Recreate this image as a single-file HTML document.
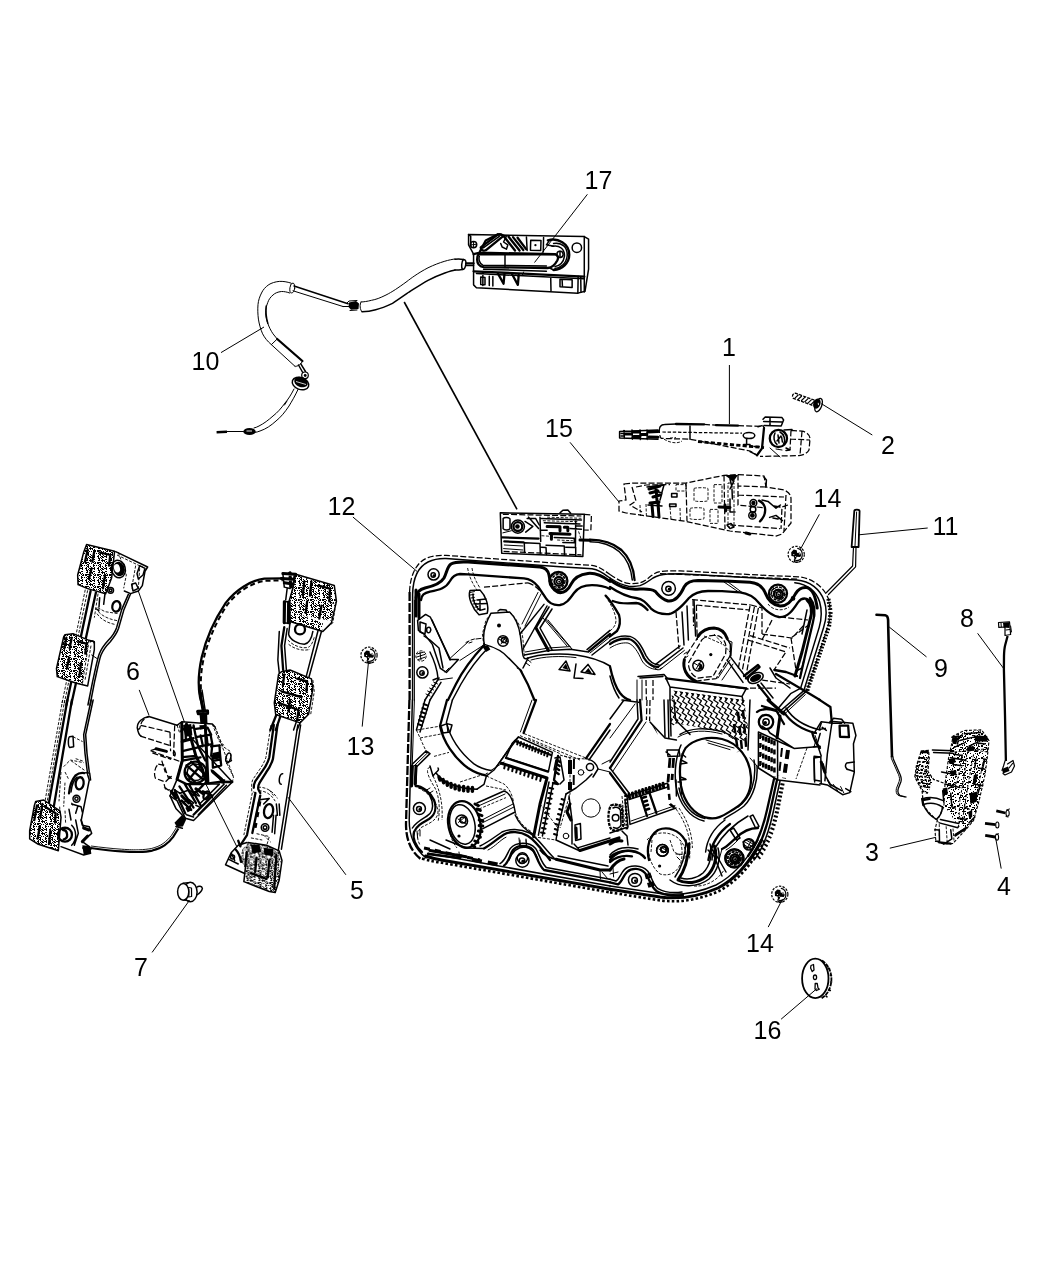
<!DOCTYPE html>
<html><head><meta charset="utf-8"><title>Door hardware diagram</title>
<style>
html,body{margin:0;padding:0;background:#fff;}
body{width:1050px;height:1275px;overflow:hidden;}
svg{display:block;will-change:transform}
text{font-family:"Liberation Sans",sans-serif;font-size:25px;fill:#000;text-anchor:middle}
.l{stroke:#000;stroke-width:1;fill:none}
.k{stroke:#000;stroke-width:1.5;fill:none;stroke-linejoin:round;stroke-linecap:round}
.t{stroke:#000;stroke-width:1;fill:none;stroke-linejoin:round;stroke-linecap:round}
.b{stroke:#000;stroke-width:2.3;fill:none;stroke-linejoin:round;stroke-linecap:round}
.bb{stroke:#000;stroke-width:3;fill:none;stroke-linejoin:round;stroke-linecap:round}
.d{stroke:#000;stroke-width:1.25;fill:none;stroke-dasharray:6 2.2}
.d2{stroke:#000;stroke-width:0.9;fill:none;stroke-dasharray:3 1.5}
path,circle,ellipse,line,polyline,rect{vector-effect:non-scaling-stroke}
.f{fill:#000;stroke:none}
.w{fill:#fff;stroke:#000;stroke-width:1.2}
</style></head><body>
<svg width="1050" height="1275" viewBox="0 0 1050 1275">
<rect width="1050" height="1275" fill="#fff"/>
<defs>
<pattern id="sp" patternUnits="userSpaceOnUse" width="12" height="12"><rect width="12" height="12" fill="#000"/><path d="M0 0h1v1h-1zM1 0h1v1h-1zM3 0h1v1h-1zM5 0h1v1h-1zM6 0h1v1h-1zM8 0h1v1h-1zM10 0h1v1h-1zM11 0h1v1h-1zM2 1h1v1h-1zM3 1h1v1h-1zM7 1h1v1h-1zM9 1h1v1h-1zM11 1h1v1h-1zM0 2h1v1h-1zM1 2h1v1h-1zM2 2h1v1h-1zM4 2h1v1h-1zM7 2h1v1h-1zM9 2h1v1h-1zM10 2h1v1h-1zM11 2h1v1h-1zM2 3h1v1h-1zM5 3h1v1h-1zM8 3h1v1h-1zM1 4h1v1h-1zM3 4h1v1h-1zM6 4h1v1h-1zM8 4h1v1h-1zM1 5h1v1h-1zM10 5h1v1h-1zM3 6h1v1h-1zM4 6h1v1h-1zM6 6h1v1h-1zM8 6h1v1h-1zM9 6h1v1h-1zM10 6h1v1h-1zM0 7h1v1h-1zM1 7h1v1h-1zM2 7h1v1h-1zM4 7h1v1h-1zM10 7h1v1h-1zM0 8h1v1h-1zM3 8h1v1h-1zM4 8h1v1h-1zM5 8h1v1h-1zM6 8h1v1h-1zM9 8h1v1h-1zM10 8h1v1h-1zM0 9h1v1h-1zM7 9h1v1h-1zM0 10h1v1h-1zM1 10h1v1h-1zM2 10h1v1h-1zM4 10h1v1h-1zM5 10h1v1h-1zM6 10h1v1h-1zM7 10h1v1h-1zM8 10h1v1h-1zM9 10h1v1h-1zM10 10h1v1h-1zM11 10h1v1h-1zM0 11h1v1h-1zM1 11h1v1h-1zM2 11h1v1h-1zM5 11h1v1h-1zM6 11h1v1h-1zM7 11h1v1h-1zM8 11h1v1h-1zM9 11h1v1h-1z" fill="#fff"/></pattern>
<pattern id="sl" patternUnits="userSpaceOnUse" width="12" height="12"><rect width="12" height="12" fill="#000"/><path d="M0 0h1v1h-1zM1 0h1v1h-1zM3 0h1v1h-1zM4 0h1v1h-1zM6 0h1v1h-1zM7 0h1v1h-1zM10 0h1v1h-1zM11 0h1v1h-1zM0 1h1v1h-1zM3 1h1v1h-1zM8 1h1v1h-1zM9 1h1v1h-1zM10 1h1v1h-1zM11 1h1v1h-1zM0 2h1v1h-1zM1 2h1v1h-1zM2 2h1v1h-1zM3 2h1v1h-1zM4 2h1v1h-1zM6 2h1v1h-1zM8 2h1v1h-1zM10 2h1v1h-1zM11 2h1v1h-1zM4 3h1v1h-1zM5 3h1v1h-1zM6 3h1v1h-1zM7 3h1v1h-1zM9 3h1v1h-1zM11 3h1v1h-1zM2 4h1v1h-1zM3 4h1v1h-1zM5 4h1v1h-1zM7 4h1v1h-1zM8 4h1v1h-1zM11 4h1v1h-1zM0 5h1v1h-1zM1 5h1v1h-1zM4 5h1v1h-1zM5 5h1v1h-1zM6 5h1v1h-1zM7 5h1v1h-1zM9 5h1v1h-1zM10 5h1v1h-1zM11 5h1v1h-1zM0 6h1v1h-1zM2 6h1v1h-1zM4 6h1v1h-1zM5 6h1v1h-1zM6 6h1v1h-1zM7 6h1v1h-1zM10 6h1v1h-1zM0 7h1v1h-1zM1 7h1v1h-1zM4 7h1v1h-1zM6 7h1v1h-1zM7 7h1v1h-1zM9 7h1v1h-1zM10 7h1v1h-1zM11 7h1v1h-1zM0 8h1v1h-1zM2 8h1v1h-1zM4 8h1v1h-1zM5 8h1v1h-1zM7 8h1v1h-1zM8 8h1v1h-1zM10 8h1v1h-1zM11 8h1v1h-1zM2 9h1v1h-1zM3 9h1v1h-1zM6 9h1v1h-1zM10 9h1v1h-1zM11 9h1v1h-1zM0 10h1v1h-1zM2 10h1v1h-1zM4 10h1v1h-1zM7 10h1v1h-1zM8 10h1v1h-1zM10 10h1v1h-1zM11 10h1v1h-1zM0 11h1v1h-1zM3 11h1v1h-1zM5 11h1v1h-1zM6 11h1v1h-1zM7 11h1v1h-1zM8 11h1v1h-1zM9 11h1v1h-1zM10 11h1v1h-1zM11 11h1v1h-1z" fill="#fff"/></pattern>
<pattern id="sp75" href="#sp" patternTransform="scale(7.5)"/>
<pattern id="sl75" href="#sl" patternTransform="scale(7.5)"/>
<pattern id="sp5" href="#sp" patternTransform="scale(5)"/>
<pattern id="sl5" href="#sl" patternTransform="scale(5)"/>
<pattern id="sp49" href="#sp" patternTransform="scale(4.9)"/>
<pattern id="sl49" href="#sl" patternTransform="scale(4.9)"/>
<pattern id="sp7" href="#sp" patternTransform="scale(7)"/>
<pattern id="sl7" href="#sl" patternTransform="scale(7)"/>
<pattern id="sp6" href="#sp" patternTransform="scale(6)"/>
<pattern id="sl6" href="#sl" patternTransform="scale(6)"/>
<pattern id="sp4" href="#sp" patternTransform="scale(4)"/>
<pattern id="sl4" href="#sl" patternTransform="scale(4)"/>
<pattern id="sp3" href="#sp" patternTransform="scale(3)"/>
<pattern id="sl3" href="#sl" patternTransform="scale(3)"/>
<pattern id="sp875" href="#sp" patternTransform="scale(8.75)"/>
<pattern id="sl875" href="#sl" patternTransform="scale(8.75)"/>
<pattern id="sx" patternUnits="userSpaceOnUse" width="12" height="12"><path d="M6 0h1v1h-1zM11 0h1v1h-1zM4 1h1v1h-1zM5 1h1v1h-1zM9 1h1v1h-1zM11 1h1v1h-1zM1 2h1v1h-1zM2 2h1v1h-1zM4 2h1v1h-1zM5 2h1v1h-1zM0 3h1v1h-1zM7 3h1v1h-1zM8 3h1v1h-1zM9 3h1v1h-1zM0 4h1v1h-1zM9 4h1v1h-1zM11 4h1v1h-1zM2 5h1v1h-1zM6 5h1v1h-1zM7 5h1v1h-1zM8 5h1v1h-1zM10 5h1v1h-1zM6 6h1v1h-1zM10 6h1v1h-1zM0 7h1v1h-1zM9 7h1v1h-1zM10 7h1v1h-1zM11 7h1v1h-1zM2 8h1v1h-1zM3 8h1v1h-1zM0 9h1v1h-1zM2 9h1v1h-1zM5 9h1v1h-1zM10 9h1v1h-1zM0 10h1v1h-1zM1 11h1v1h-1zM8 11h1v1h-1z" fill="#000"/></pattern>
<pattern id="sx875" href="#sx" patternTransform="scale(8.75)"/>
</defs>
<g transform="translate(610,400) scale(0.2)">
<!-- left connector -->
<path class="k" d="M48 158L240 150M48 190L240 196M48 158L48 190M70 152L72 192M110 150L112 196M150 150L152 198M185 150L186 198"/>
<path class="bb" d="M75 170L108 170M115 160L148 160M118 182L150 182M155 172L184 172M190 160L240 158M195 185L240 186"/>
<path class="k" d="M55 168L70 168M55 180L70 180"/>
<!-- body -->
<path class="k" d="M250 135C255 126 262 122 272 122L330 120"/>
<path class="b" d="M330 120L470 122M530 126L640 128"/>
<path class="d" d="M470 122L530 126M640 128L770 132M250 135C244 150 246 180 256 192L400 196L700 255L735 276"/>
<path style="stroke-dasharray:3.4 1.8;stroke-linecap:butt" class="d" d="M262 160L660 166"/>
<path style="stroke-width:2.8;stroke-dasharray:4.2 2.2;stroke-linecap:butt" class="k" d="M440 208L770 238"/>
<path class="k" d="M400 130L400 196"/>
<path class="d2" d="M270 196C300 215 340 220 360 205M300 190L330 188"/>
<ellipse class="k" cx="695" cy="178" rx="29" ry="15"/>
<path class="k" d="M683 194L683 222M668 222L700 222"/>
<path class="b" d="M770 140L760 242L735 276"/>
<path class="k" d="M735 276L700 258M720 232L745 232"/>
<!-- top block -->
<path class="k" d="M765 96L776 85L860 88L868 100L856 130L770 128M768 108L862 110M800 88L800 128M760 128L740 134"/>
<!-- lock cylinder -->
<circle class="b" cx="842" cy="192" r="43"/>
<path class="k" d="M825 165C815 185 820 210 835 222M850 160C870 170 880 200 868 220M840 175L845 215M855 180L835 205M858 185L862 210"/>
<path class="k" d="M870 150L910 148M880 240L900 250L880 252"/>
<!-- right dashed tail -->
<path class="d" d="M905 152L960 156C985 160 1000 175 1000 195L995 250C985 268 965 276 945 278L750 282M905 152L900 250M960 156L950 275M900 195L1000 200"/>
<path class="t" d="M800 240L850 285M830 245L860 250"/>
</g>

<g transform="translate(792.8,395.2) rotate(20)">
<path style="stroke-width:1.3;stroke-dasharray:3.2 1.2;stroke-linecap:butt" class="k" d="M22 -2.8L2.5 -2.8C-1 -2.8 -1 2.8 2.5 2.8L22 2.8"/>
<path style="stroke-width:1.2" class="k" d="M3 2L5 -2M6.5 2L8.5 -2M10 2L12 -2M13.5 2L15.5 -2M17 2L19 -2M20.5 2L22.5 -2"/>
<ellipse class="f" cx="25.5" cy="-0.3" rx="3.6" ry="5.2"/>
<ellipse style="stroke-width:1.3" class="k" cx="27.6" cy="0.5" rx="3.2" ry="7"/>
<path d="M26.5 -1.5L27.5 0.5" stroke="#fff" stroke-width="0.9"/>
</g>

<g transform="translate(905,720) scale(0.1142857)">
<!-- main body -->
<path fill="url(#sx875)" d="M420 140L520 100L670 88L735 180L720 330L700 480L650 700L600 880L540 950L470 930L350 760L350 560L380 340Z"/>
<path fill="url(#sx875)" d="M140 272L205 266L212 330L200 450L250 520L200 640L150 620L88 500L100 400Z"/>
<path style="stroke-width:1.1;stroke-dasharray:3 1.6;stroke-linecap:butt" class="d" d="M520 92L670 86L735 180L720 330L700 480L650 700L600 880L540 950L420 1080L340 1086L270 1060L262 960L282 880L340 760L350 560L380 340L410 200L420 140Z"/>
<path class="d2" d="M540 300L520 480L480 700L470 930M600 300L560 520L530 700L500 900M430 280L735 250M660 90L640 250M500 300L470 480L440 600M580 260L720 280M690 330L620 700"/>
<path class="k" d="M410 150L470 140L460 210M520 120L660 110M480 180L600 150L720 160M560 230L620 200L700 210M540 260L600 250M430 240L520 200M440 180L500 130"/>
<path class="f" d="M610 135L720 140L722 190L612 185ZM412 152L462 148L450 212L416 208ZM382 342L438 334L442 372L386 382ZM540 240L600 225L605 265L548 280Z"/>
<path class="k" d="M400 330L520 350M420 390L500 400M320 455L450 480M350 560L480 590M330 620L340 720M400 640L410 760L440 770M380 600L440 560M430 300L500 310L490 360"/>
<path class="f" d="M565 640L635 625L628 715L572 735ZM552 805L588 785L588 848L562 865ZM602 482L638 472L620 556L592 558ZM330 600L370 590L375 650L335 660ZM400 440L450 445L448 480L402 478Z"/>
<path class="k" d="M700 340L680 420M620 340L610 420M660 560L640 640M520 760L560 780M480 860L540 870M640 420L700 430M600 560L680 575M560 900L610 850"/>
<path class="k" d="M240 262L425 268M250 285L420 290"/>
<!-- left arm -->
<path style="stroke-dasharray:3 1.6;stroke-linecap:butt" class="d" d="M140 272L205 266L212 330L200 450L250 520L340 552M140 280L100 400L86 500L150 620L160 740L200 800L270 870"/>
<path class="f" d="M135 268L205 264L208 290L138 292Z"/>
<path style="stroke-width:1.7;stroke-dasharray:2.5 1.5;stroke-linecap:butt" class="k" d="M120 330L200 335M105 400L195 410M95 460L200 470M100 520L230 530M130 580L220 590M115 365L198 372M100 430L196 440M98 490L215 500M115 550L225 560M150 620L200 640"/>
<path class="k" d="M150 690C210 670 280 680 335 705M160 740C220 720 280 730 325 760M160 740C180 790 220 840 275 870C310 840 325 800 328 760"/>
<path class="b" d="M150 690L160 745M155 700L215 690"/>
<!-- bottom -->
<path class="k" d="M262 960L300 962L302 1060L268 1062M300 900L462 942L470 930M310 870L470 905M400 960L410 1040L340 1086M440 1000L540 940"/>
<path class="d2" d="M280 880L300 900L300 1020M360 930L370 1080M420 950L430 1070"/>
<path class="b" d="M440 1010L530 950M300 1070L400 1082"/>
</g>
<!-- screws 4 -->
<g>
<path d="M996.3 810.8L1005.5 813" stroke="#000" stroke-width="2.8" fill="none"/><ellipse style="stroke-width:1.1" class="k" cx="1007.6" cy="813.3" rx="1.6" ry="3"/><path class="t" d="M1006.5 810L1009.5 809M1006 816.5L1008 817"/>
<path d="M985 823.3L995.5 824.6" stroke="#000" stroke-width="2.8" fill="none"/><ellipse style="stroke-width:1.1" class="k" cx="997.3" cy="825" rx="1.6" ry="3"/>
<path d="M985.2 835.4L995.2 837" stroke="#000" stroke-width="2.8" fill="none"/><ellipse style="stroke-width:1.1" class="k" cx="997" cy="837.3" rx="1.6" ry="3"/><path class="t" d="M996 834.2L998.6 833.8"/>
</g>

<g transform="translate(25,535) scale(0.13333)">
<!-- top clip dark block -->
<path fill="url(#sl75)" d="M462 72L672 122L650 320L605 440L470 402L398 372L395 300L440 130Z"/>
<path class="b" d="M470 110L450 200M560 130L640 150L630 230M500 250L480 330M600 300L585 400M520 120L505 200"/>
<path class="k" d="M462 72L672 122L650 320L605 440L470 402L398 372L395 300L440 130Z"/>
<!-- right bracket top -->
<path class="k" d="M680 125L920 240L900 272L880 380L850 420L792 440L745 420"/>
<path class="d2" d="M690 150L900 250M700 130L760 300L740 400M830 230L800 400M860 250L850 400"/>
<path class="k" d="M860 230L900 250L885 300L850 330L840 290ZM800 370L830 360L850 400L810 420Z"/>
<ellipse class="f" cx="705" cy="255" rx="42" ry="55" transform="rotate(-15 705 255)"/>
<ellipse cx="690" cy="250" rx="22" ry="32" fill="#fff" transform="rotate(-15 690 250)"/>
<ellipse class="k" cx="700" cy="255" rx="52" ry="66" transform="rotate(-15 700 255)"/>
<circle class="k" cx="642" cy="415" r="22"/><circle class="k" cx="642" cy="415" r="10"/>
<ellipse class="b" cx="685" cy="535" rx="30" ry="40" transform="rotate(10 685 535)"/>
<!-- rails -->
<path class="b" d="M492 420L310 1275M532 432L346 1275"/>
<path class="d2" d="M452 410L275 1275M470 415L292 1275M548 440L520 620"/>
<path class="k" d="M600 440L590 520M560 470L555 540"/>
<!-- right edge double line -->
<path class="k" d="M792 440L742 560L702 700C690 735 670 765 640 800C610 830 590 850 570 900C555 940 540 1020 522 1100L488 1275"/>
<path class="k" d="M775 445L725 560L687 695C675 730 655 758 625 790C595 822 575 845 556 895C540 940 525 1020 507 1100L472 1275"/>
<path class="d2" d="M530 548C560 600 620 630 690 642M540 590C570 635 620 660 680 672M545 545L600 575L700 590"/>
<path class="f" d="M530 548L560 560L555 580Z"/>
<path class="t" d="M500 900L545 930"/>
<!-- middle clip -->
<path fill="url(#sl75)" d="M300 748L360 740L480 790L470 860L430 1120L380 1110L242 1062L236 1000L290 765Z"/>
<path class="b" d="M310 770L295 850M400 800L460 815L452 890M330 920L315 1000M420 960L408 1060M350 770L335 850"/>
<path class="k" d="M300 748L360 740L480 790L520 800L520 860L470 1132L380 1110L242 1062L236 1000L290 765Z"/>
<path class="d2" d="M480 790L470 860L430 1120M495 830L450 1090"/>
<path class="k" d="M490 800C500 790 515 795 520 810"/>
<!-- line to motor -->
</g>

<g transform="translate(25,700) scale(0.13333)">
<path class="b" d="M318 0L176 790M352 0L216 800"/>
<path class="d2" d="M282 0L150 760M298 0L165 770"/>
<path class="k" d="M496 0L440 260L450 400L470 560L482 600L452 750L422 900L440 960M511 0L455 260L465 400L482 540"/>
<path class="k" d="M335 275L360 272L365 350L335 356C322 350 322 282 335 275Z"/>
<path class="d2" d="M360 275L432 312M290 500L340 450L440 470M300 540L330 600M270 540L255 760M300 620L290 800M345 455L450 530M380 440L440 460"/>
<path class="b" d="M330 700C335 650 350 600 380 565C400 548 425 545 445 548"/>
<path class="k" d="M345 690C350 640 365 600 390 578"/>
<ellipse class="b" cx="410" cy="625" rx="30" ry="46" transform="rotate(8 410 625)"/>
<circle class="k" cx="386" cy="740" r="26"/><circle class="k" cx="386" cy="740" r="12"/>
<path class="k" d="M455 545L485 548L492 600M350 780L420 800L430 840M330 820L345 900M380 850L395 800"/>
<path class="d2" d="M260 800L265 900M300 830L305 930M350 770L360 800"/>
<!-- bottom clip -->
<path fill="url(#sl75)" d="M80 762L140 750L262 832L270 880L250 1130L100 1082L35 1042L35 980L70 792Z"/>
<path class="b" d="M90 790L70 900M150 800L230 850L225 920M110 950L95 1040M190 980L180 1080M130 780L115 880"/>
<path class="k" d="M80 762L140 750L262 832L270 880L250 1130L100 1082L35 1042L35 980L70 792Z"/>
<!-- bottom bracket -->
<circle class="b" cx="300" cy="1010" r="52"/><path class="b" d="M285 975C320 975 330 1040 290 1045"/>
<path class="k" d="M270 1100L440 1162L492 1150L482 1100L430 1062L500 1000L482 950L430 940L420 900"/>
<path class="k" d="M350 940C390 980 390 1050 350 1090M380 900L400 1000L370 1090"/>
<path class="bb" d="M440 960L480 975M430 1062L470 1020M440 1110L490 1115"/>
<path class="f" d="M430 1090L490 1095L495 1150L440 1160Z"/>
</g>

<g transform="translate(190,560) scale(0.142857)">
<!-- cable arc -->
<path class="b" d="M95 1050L70 960C55 880 60 780 82 680C110 560 170 420 250 300C320 210 420 145 520 130L650 128"/>
<path style="stroke-width:2;stroke-dasharray:5 3;stroke-linecap:butt" class="k" d="M82 960C70 880 75 780 96 690C124 570 182 432 262 312C330 224 428 160 524 146L650 142"/>
<path class="b" d="M55 1056L125 1054L126 1072L58 1074Z"/>
<path class="f" d="M70 1074L120 1072L122 1142L75 1145Z"/>
<!-- top connector -->
<path class="bb" d="M650 95L740 100M640 130L730 135M660 160L720 168M700 90L705 190M735 100L725 200"/>
<path class="k" d="M650 95L660 190L700 200M680 200L670 280M720 200L700 290"/>
<!-- top clip -->
<path fill="url(#sl7)" d="M790 120L1010 180L1022 290L985 425L770 385L765 250Z"/>
<path fill="url(#sl7)" d="M740 100L790 120L765 250L770 385L930 440L925 500L700 430L690 300L720 200Z"/>
<path class="b" d="M800 150L790 250M900 180L980 200L975 290M820 290L810 370M920 320L905 410M850 150L840 250"/>
<path class="k" d="M740 100L1010 178L1025 290L990 440L930 500L700 430L690 300L720 200Z"/>
<path class="bb" d="M662 292L660 440M690 295L688 440"/>
<path class="k" d="M655 290L700 292L700 445L655 440Z"/>
<path class="d2" d="M990 300L1020 310L1000 440L960 470"/>
<!-- rail -->
<path class="b" d="M660 470L640 600L652 770"/>
<path class="k" d="M625 500L615 700L625 790M680 480L662 600L675 775"/>
<path class="k" d="M920 500L830 830M897 492L812 822"/>
<circle class="b" cx="770" cy="486" r="35"/>
<path class="k" d="M700 440L690 520C700 560 760 590 800 590C830 585 850 560 860 500"/>
<path class="d2" d="M685 560C720 600 790 625 830 610C850 600 862 570 870 540M690 590C730 625 800 640 840 625"/>
<!-- middle clip -->
<path fill="url(#sl7)" d="M640 782L700 770L850 832L858 900L845 980L610 920L620 800Z"/>
<path fill="url(#sl7)" d="M610 920L845 980L830 1080L770 1140L600 1082L590 1000Z"/>
<path class="b" d="M660 800L650 880M750 830L820 850L815 920M640 920L780 960M700 980L690 1060M620 1000L760 1050L750 1120"/>
<path class="k" d="M640 782L700 770L850 832L860 900L830 1080L770 1140L600 1082L590 1000L620 800Z"/>
<path class="d2" d="M860 840L870 920L845 1080"/>
<!-- rail below -->
<path class="b" d="M602 1090L562 1190M632 1096L600 1190"/>
<path class="k" d="M770 1140L750 1190M745 1130L725 1190"/>
</g>

<g transform="translate(210,725) scale(0.141145)">
<path class="b" d="M452 0L420 230C410 265 395 295 372 325L320 400C312 415 310 430 310 445"/>
<path class="b" d="M478 0L446 240C436 275 420 305 398 335L352 408C342 425 340 440 342 455L356 482"/>
<path class="d2" d="M432 0L396 230C386 260 370 290 350 318L302 388C294 410 294 440 296 470L330 482"/>
<path class="b" d="M322 482L262 780L215 852M356 500L300 765"/>
<path class="d2" d="M300 480L240 780"/>
<path class="k" d="M622 0L546 500L482 900L462 1180M642 0L566 500L506 880"/>
<path class="k" d="M515 345C490 340 480 420 505 420"/>
<ellipse class="b" cx="415" cy="610" rx="32" ry="50" transform="rotate(10 415 610)"/>
<circle class="k" cx="390" cy="726" r="27"/><circle class="k" cx="390" cy="726" r="13"/>
<path class="d2" d="M340 440C390 440 440 460 478 520M345 465C390 468 430 485 462 540M420 460L450 500"/>
<path class="k" d="M350 530L420 520L380 560M470 560L478 640M490 560L495 640M450 640L440 760M468 640L458 770"/>
<path style="stroke-width:3.4;stroke-dasharray:5 6;stroke-linecap:butt" class="k" d="M352 540L318 730"/>
<path class="d2" d="M330 770L420 790L400 860M290 800L370 815M380 780L430 830"/>
<!-- bottom clip -->
<path fill="url(#sl7)" d="M270 832L400 852L490 892L510 960L490 1100L462 1186L420 1180L240 1110L252 1000L205 960L230 880Z"/>
<path class="f" d="M290 850L350 845L360 900L300 910ZM380 870L450 880L445 930L385 920Z"/>
<path class="b" d="M260 900L250 1000M330 940L320 1040M420 960L410 1080M470 920L455 1160M290 1050L400 1090"/>
<path class="k" d="M270 832L400 852L490 892L510 960L490 1100L462 1186L420 1180L240 1110L252 1000"/>
<path class="k" d="M110 990L150 905L200 852L262 832M110 990L242 1050M150 905L175 960M130 950L200 985"/>
<circle class="k" cx="160" cy="935" r="14"/>
<path class="b" d="M180 880C200 900 215 930 220 970M200 820L215 860"/>
<!-- line from motor -->
</g>

<g>
<path class="l" d="M138.3 591L184.4 722"/>
<path class="l" d="M205.3 783L237 847"/>
<!-- cable from left rail bottom to motor -->
<path d="M90.6 848C100 849.3 112 850.8 121.4 851.4C130 852 134 852.1 138.6 852C144 851.8 148 851.5 152.3 850.6C157 849.3 161 847.8 164.5 845.4C168 842.8 171 839.8 173.2 836.8L178.4 828.5" stroke="#000" stroke-width="2.1" fill="none"/>
<path d="M91 846C100 847.2 112 848.6 121.4 849.2C130 849.8 134 849.9 138.6 849.8C144 849.6 148 849.2 151.8 848.4C156 847.2 160 845.8 163 843.6C166.5 841 169.5 838 171.5 835.4L176.5 827.5" stroke="#000" stroke-width="0.9" fill="none"/>
</g>

<g transform="translate(130,690) scale(0.117647)">
<!-- motor cylinder -->
<path class="k" d="M160 226L400 300"/>
<path class="k" d="M160 226C110 235 60 270 62 320C66 350 80 385 95 392"/><path class="d" d="M62 320C70 345 85 335 90 300C95 265 130 235 160 226M90 300L340 358M88 392L340 472M380 300L370 560M340 358L345 520"/>
<path class="d" d="M175 516L420 606M190 535L350 590M175 516L220 500"/>
<path class="bb" d="M222 500L310 522"/>
<path class="k" d="M372 520C366 535 370 555 380 560C388 545 384 525 372 520Z"/>
<path class="d" d="M232 640C212 660 200 720 216 750L300 782L340 742M240 630L290 640L330 760M290 822L350 872M270 600L300 700M290 800L300 840L340 850"/>
<path class="k" d="M330 735L350 750M335 750L350 735"/>
<!-- housing -->
<path class="k" d="M400 300L440 270L700 290L722 312M862 600L822 622M870 782L540 1110L470 1090L392 1010L340 900L400 760L440 600L440 320Z"/>
<path class="d2" d="M722 312L790 480L850 520L862 600M822 622L880 740L870 782M700 290L760 440L800 470M722 312L880 740M400 300L420 360M760 460L780 480L760 500M420 300L430 360"/>
<ellipse class="k" cx="836" cy="575" rx="20" ry="40" transform="rotate(15 836 575)"/>
<path class="bb" d="M440 280L445 600L400 760M480 290L520 420L560 560L600 640L650 780M640 300L662 780"/>
<path class="b" d="M445 330L530 320M445 430L540 410M445 520L570 490M445 600L600 572M470 300L475 430M520 420L440 440M560 560L445 570"/>
<path class="b" d="M560 400L685 380L700 460L580 482ZM600 385L620 478M650 382L660 470M580 482L640 600M700 460L690 560M560 330L640 320M540 300L560 400M660 320L690 380"/>
<path class="b" d="M700 560L765 540L775 640L705 660ZM720 600L770 590M690 480L760 470L765 540"/>
<path class="f" d="M450 300L520 290L530 385L470 400ZM700 535L762 522L766 582L705 592ZM590 300L640 298L642 330L595 335Z"/>
<circle class="b" cx="556" cy="700" r="92"/><circle class="k" cx="556" cy="700" r="70"/>
<path class="b" d="M480 640L620 760M520 610L640 720M500 760L600 640M470 700L560 790"/>
<path class="b" d="M400 760L480 800L620 800L760 780L870 782M420 820L540 1000M460 790L560 960M640 790L530 900M620 860L700 900L540 1060M440 940L520 1020M500 800L600 980M380 850L470 1050"/>
<path class="k" d="M340 900L400 940L470 1090M380 850L430 880M360 880L400 900M690 680L760 740M700 700L780 770M800 800L560 1040M820 810L580 1060M660 800L760 800L600 960M420 880L500 850L580 900"/>
<path class="bb" d="M350 860L390 920M700 690L780 760M440 900L500 960M560 840L620 880"/>
<ellipse class="b" cx="650" cy="895" rx="22" ry="36" transform="rotate(30 650 895)"/>
<path class="f" d="M760 750L810 760L800 800L770 790ZM470 1000L510 980L530 1020L490 1040ZM360 870L385 860L400 900L375 915Z"/>
<path class="k" d="M450 960L500 930L540 960L500 1000ZM520 880L560 860L590 900M560 980L600 1000M480 1060L540 1080"/>
<!-- cable top -->
<path class="bb" d="M592 0L622 180"/><path class="k" d="M612 0L640 180"/>
<path class="b" d="M572 182L660 178L662 200L578 204Z"/>
<path class="f" d="M590 204L652 200L655 282L600 285Z"/>
<!-- cable bottom -->
<path class="f" d="M378 1128L440 1065L478 1100L450 1160L400 1165Z"/>
<path class="k" d="M390 1160L445 1175"/>
<!-- long thin lines -->

</g>

<g>
<ellipse style="stroke-width:1.5" class="k" cx="190.3" cy="892" rx="6.8" ry="9.8"/>
<path style="stroke-width:1.4" class="k" d="M196.5 887.5C199 885.5 201.8 886 202.4 888.5C201.5 892 199.5 893.5 196.8 895"/>
<ellipse cx="183.2" cy="891.8" rx="5.6" ry="8.4" fill="#fff" stroke="#000" stroke-width="1.5"/>
<path style="stroke-width:1.2" class="k" d="M183 883.2L188.5 882.6M184 900.2L189.5 900.8M188.5 887.5L191.5 888L191.6 896.5L188.6 897"/>
<path style="stroke-width:1.2" class="k" d="M188.8 889L188.8 896.5"/>
</g>

<g>
<!-- rod 9 -->
<path d="M876.5 614.8L885.2 615.2C887.4 615.6 888 617.5 888.1 620L888.3 630L889.7 682.4L892 756" stroke="#000" stroke-width="2.6" fill="none" stroke-linejoin="round" stroke-linecap="round"/>
<path d="M892 756L892.3 758.5L899.4 774.6C900.6 777.5 900.6 779.5 900 781.5L897.3 788.5C896.6 791.5 897.3 794 899 795.3L905.6 796.9" stroke="#000" stroke-width="1" fill="none" transform="translate(-0.9,0)"/>
<path d="M892 756L892.3 758.5L899.4 774.6C900.6 777.5 900.6 779.5 900 781.5L897.3 788.5C896.6 791.5 897.3 794 899 795.3L905.6 796.9" stroke="#000" stroke-width="1.3" fill="none" transform="translate(0.9,0.3)"/>
<!-- rod 8 -->
<path d="M1007.6 636L1005.2 645C1004.4 648 1004.1 652 1004 656L1003.9 669.2L1005 715.3L1005.9 761" stroke="#000" stroke-width="2.3" fill="none" stroke-linejoin="round"/>
<path style="stroke-width:1.2" class="k" d="M998.5 622.5L1009.5 621.8L1010.6 634.5L1005 635.5L1005 627L998.8 627.4Z"/>
<path class="f" d="M1003 623L1009 622.5L1009.5 628L1003.5 627.5Z"/>
<path class="t" d="M1001 623L1001.3 627M1006 630L1010 629.5M1010.6 626L1011.5 632"/>
<path class="f" d="M1002 769L1008 766.5L1009.5 771L1003 773.5Z"/>
<path style="stroke-width:1.2" class="k" d="M1005 761L1003.5 766L1002 770.5M1007.5 764L1013 760.5L1014.5 766L1011.5 772L1005 775L1003 773.5M1009 768L1012.5 763.5"/>
</g>

<g>
<!-- right tube -->
<path class="t" d="M455 259C450 259.5 440 262 428 267.8C418 273 410 279 407 281.4C398 288 392 292 386 295C380 298 376 299.5 371.5 300.3C367 301.5 364 301.8 361 302"/>
<path class="k" d="M455 270C452 270.5 440 274 428 280.4C420 285 414 289 409.2 292C402 297 397 300.5 392.5 303.4C386 306.5 381 308.5 375.7 309.7C370 311.5 366 311.8 362 311.8"/>
<path class="t" d="M361 302C359.5 304 359.8 310 362 311.8"/>
<!-- middle fitting -->
<path class="f" d="M349 302.5L356 301L359 303.5L358.5 309L351 309.8L348.5 307Z"/>
<path class="t" d="M347 303L349 301L357 300.5M350 310.5L357 310"/>
<!-- thin rod -->
<path class="k" d="M348 303.8L294 286"/><path class="t" d="M343 306.5L293 290.8M343 306.5L349 306.5"/>
<!-- left tube -->
<ellipse class="t" cx="292.3" cy="288" rx="2.4" ry="5" transform="rotate(8 292.3 288)"/>
<path class="t" d="M291 283.1C287 281.8 283 281.2 279.3 281.4C275 281.8 271.5 283 268.9 284.6C265.5 286.8 263 289.8 261.5 293C259.5 297 258.4 300.5 258 304.5C257.6 309.5 257.8 314 258.4 319.1C259.3 324.5 260.5 329 262.6 333.8C264.8 338 267.5 341.3 271 344.3L295 366.3"/>
<path class="t" d="M289.8 293C287 292 284 291.4 281.4 291.5C278 291.9 275 293 273 295C270.5 297 268.8 299.5 267.8 302.4C266.3 306 265.7 309.5 265.7 312.9C265.8 316.5 266.5 320 267.8 323.3C269 327 270.8 330.5 273 333.8L277.2 339"/>
<path class="b" d="M277.2 339L302.4 361"/>
<path class="k" d="M266.2 306C265.6 311 266 317 267.8 323.3"/>
<path class="t" d="M271.5 344.5L277.2 339M295 366.3C297 367 302 364 302.4 361"/>
<!-- rod to grommet -->
<path class="k" d="M298.5 365L303 373M300.8 363.8L305.5 371.5"/>
<circle class="w" cx="305" cy="375.3" r="3.3"/><circle class="f" cx="305.2" cy="375.5" r="1.4"/>
<ellipse class="f" cx="301" cy="382" rx="7" ry="5" transform="rotate(20 301 382)"/>
<ellipse class="k" cx="300.5" cy="383.5" rx="8.5" ry="6" transform="rotate(20 300.5 383.5)"/>
<path d="M296 381.5L306 384.5" stroke="#fff" stroke-width="0.8"/>
<!-- lower cable -->
<path class="t" d="M298 389.5C295 396 292 401 289 406C285 412 281 417 276 421C271 425.5 266 429 260 431C258 431.8 256.5 432.2 255 432.4"/>
<path class="t" d="M294 389C291 395 288 399.5 285 403C281 408.5 277.5 412.5 273 416C268.5 420 264 423.5 259 426C257 427 255.5 427.7 254 428"/>
<path class="t" d="M287 401L284.5 405"/>
<ellipse class="f" cx="249.5" cy="431.5" rx="6.2" ry="3.6"/>
<path d="M246.5 431L252 431" stroke="#fff" stroke-width="0.9"/>
<path class="t" d="M243.5 431.5L227 431.5"/>
<path d="M227 431.7L216.6 432.2" stroke="#000" stroke-width="2.4" fill="none"/>
</g>

<g transform="translate(400,540) scale(0.2)">
<!-- borders -->
<path style="stroke-dasharray:9 2;stroke-linecap:butt" class="b" d="M48 800L48 260"/><path class="d" d="M48 260C50 180 80 110 140 88C170 78 200 76 230 77L800 117L960 127C990 130 1010 145 1050 172"/>
<path class="k" d="M63 800L63 270C65 195 90 135 140 110C170 96 200 92 230 93L800 134L960 144C990 148 1010 162 1050 190"/>
<path class="t" d="M72 800L72 300"/>
<path class="bb" d="M80 380L80 250"/>
<path class="bb" d="M95 390L95 270"/>
<path class="bb" d="M80 290C82 262 95 247 125 240C170 230 205 215 220 190C235 160 235 135 255 120C275 108 300 108 340 110L700 135C725 138 740 150 745 175C750 215 760 250 790 262C820 268 842 248 857 218C872 188 900 172 940 167C980 163 1020 185 1050 207"/>
<path class="b" d="M105 300C108 275 120 265 150 258C200 250 230 240 250 205C262 182 275 172 300 170L340 172L620 192C650 195 672 210 690 232L730 292C745 315 770 328 800 325C830 320 845 300 870 265C890 238 920 226 960 226C1000 226 1030 235 1050 245"/>

<!-- bolt holes -->
<circle class="k" cx="168" cy="172" r="28"/><circle class="k" cx="166" cy="175" r="11"/><circle class="f" cx="170" cy="178" r="7"/>
<circle class="k" cx="112" cy="662" r="28"/><circle class="k" cx="110" cy="665" r="11"/><circle class="f" cx="114" cy="667" r="7"/>
<circle class="d2" cx="105" cy="580" r="26"/><path class="t" d="M85 570L120 560M84 585L125 572M90 598L125 586M100 560L105 600"/>
<!-- grommet -->
<circle class="b" cx="792" cy="205" r="45"/><circle style="stroke-dasharray:3 1;stroke-linecap:butt" class="k" cx="792" cy="205" r="33"/><circle class="b" cx="794" cy="207" r="22"/><circle class="k" cx="795" cy="208" r="12"/><circle class="f" cx="796" cy="209" r="5"/>
<path class="d2" d="M760 180A40 40 0 0 1 825 190M765 235A40 40 0 0 0 822 232"/>
<!-- cable down to clip -->
<path class="d2" d="M338 140C345 180 360 215 385 250M360 140C365 175 378 205 400 240"/>
<path class="k" d="M350 252C338 285 360 340 395 374L436 366C446 330 430 280 400 250Z"/>
<path class="k" d="M365 270C362 300 378 335 400 352L425 345M385 300L430 295M380 320L435 318M400 350L400 300"/>
<path class="t" d="M352 262L372 258M352 275L370 272M355 290L372 287M360 305L376 302M366 320L382 317M374 336L390 332M384 350L398 346"/>
<path class="d" d="M420 236L640 214"/>
<!-- central bracket -->
<path class="k" d="M640 590C622 600 615 590 612 560L602 480C595 430 575 385 548 360L455 366C425 420 412 480 422 522C470 535 520 562 545 592L602 650"/>
<path class="d2" d="M548 360C585 395 610 440 615 500L622 585"/>
<path class="k" d="M490 355L500 348L530 350L535 358"/>
<circle class="f" cx="495" cy="428" r="10"/>
<circle class="k" cx="515" cy="505" r="26"/><circle class="k" cx="520" cy="500" r="13"/><path class="t" d="M495 495L535 520M500 485L540 508M505 520L528 485"/>
<path class="d2" d="M456 368L430 400L412 470L418 520"/>
<path class="t" d="M330 512L345 505M355 500L372 495M380 495L405 492M345 515L360 510"/>
<!-- opening left edge -->
<path class="b" d="M422 524C370 580 320 640 280 720L240 800"/>
<path class="k" d="M440 540C390 590 345 650 305 720L262 800"/>
<path class="f" d="M410 530L440 528L452 548L430 560Z"/>
<path class="b" d="M602 650C625 690 650 740 672 800"/>
<path class="k" d="M640 592L615 640"/>
<path class="t" d="M585 640L610 655M640 600L655 612M630 615L648 628"/>
<!-- left bracket -->
<path class="k" d="M88 402L128 372L152 386L252 598L292 598L232 662L202 642L162 522L122 472L92 452Z"/>
<path class="k" d="M100 410L100 460L125 470L130 420ZM135 440C150 430 160 445 150 460C140 470 128 460 135 440Z"/>
<path class="k" d="M160 400L250 600M120 480L150 500L195 540L215 640"/>
<path class="t" d="M252 590L342 508M300 602L420 524M190 700L262 690M225 660L245 640"/>
<path class="k" d="M150 560C170 600 185 640 190 690L165 700"/>
<!-- left teeth -->
<path class="k" d="M125 800L195 690M150 800L205 712"/>
<path class="t" d="M130 770L150 780M138 755L160 765M148 740L168 750M158 725L178 735M168 710L188 720"/>
<!-- ribs on right -->
<path class="bb" d="M680 440L742 552"/>
<path class="k" d="M745 335L680 440M760 345L700 440L760 548M735 330L615 545M720 322L600 470"/>
<path class="t" d="M690 262L610 420M705 270L625 430M715 390L835 530M728 395L850 535M740 400L860 545"/>
<path class="k" d="M622 575L742 552L852 546L942 560"/>
<path class="t" d="M625 560L742 540L850 533"/>
<path class="b" d="M1050 470L945 556"/>
<path class="k" d="M1050 452L935 548M1050 505L960 575"/>
<path class="t" d="M1050 485L950 565"/>
<path class="d" d="M640 214C670 222 700 250 730 290"/>
<!-- opening bottom arc of upper middle hole -->
<path class="k" d="M640 590C700 570 800 565 880 575C940 583 1000 600 1050 630"/>
<path class="t" d="M655 600C720 582 800 578 880 588"/>
<!-- triangle markers -->
<path class="k" d="M795 648L830 605L850 655ZM905 660L940 622L975 672Z"/>
<path class="f" d="M812 640L830 618L842 650ZM925 660L942 640L960 668Z"/>
<path class="k" d="M880 620L870 690L915 692"/>
</g>

<g transform="translate(610,540) scale(0.2)">
<!-- cable arc from part 17b -->
<!-- borders -->
<path class="d" d="M0 172C30 192 60 212 93 217C115 219 135 218 150 214C175 206 195 188 215 172C235 160 255 155 290 154L350 154L800 178L944 184C1010 190 1070 235 1092 294C1105 340 1100 390 1092 426L985 753"/>
<path class="k" d="M0 190C30 210 60 226 93 231C115 233 135 232 150 228C175 220 195 204 215 190C235 178 255 172 290 170L350 169L800 194L934 200C1000 206 1050 245 1071 304C1085 345 1082 395 1068 437L969 753"/>
<path class="bb" d="M0 200C50 235 80 245 125 246C160 246 200 238 225 256C240 270 250 292 290 305C330 310 355 270 372 232C385 210 410 202 440 202L600 206L700 211C740 214 765 235 778 268C790 300 815 325 850 330C890 332 912 300 928 268C942 245 962 235 985 238C1010 245 1028 280 1036 340"/>
<path class="b" d="M0 235C50 268 90 285 130 290C170 296 185 320 205 343C230 365 265 372 295 370C330 365 365 325 395 290C420 265 450 256 490 255L560 256L650 262C700 268 725 290 745 315C775 350 805 378 845 385C890 388 915 350 940 312C955 292 975 288 995 300C1012 320 1020 350 1020 385"/>
<path class="d" d="M250 168L800 190L940 196"/>
<path class="t" d="M570 210L640 258M590 210L660 262"/>
<!-- bolt hole -->
<circle class="k" cx="293" cy="242" r="34"/><circle class="k" cx="292" cy="244" r="13"/><circle class="f" cx="296" cy="246" r="7"/>
<!-- grommet -->
<circle class="b" cx="840" cy="268" r="45"/><circle style="stroke-dasharray:3 1;stroke-linecap:butt" class="k" cx="840" cy="268" r="33"/><circle class="b" cx="842" cy="270" r="22"/><circle class="k" cx="843" cy="271" r="12"/><circle class="f" cx="844" cy="272" r="5"/>
<path class="t" d="M805 250L870 290M810 235L880 275M800 270L860 300"/>
<circle class="k" cx="915" cy="292" r="8"/>
<path class="d2" d="M790 320C810 350 860 360 895 335"/>
<!-- left openings -->
<path class="b" d="M-22 278C0 300 25 340 45 374C52 400 52 430 35 455L0 482"/><path class="b" d="M14 305C40 316 80 320 131 315C150 315 165 325 188 350"/>
<path class="d2" d="M-10 300C12 335 30 375 30 405C28 430 14 445 -10 462"/>
<path class="b" d="M0 520C30 500 60 490 95 495C130 505 150 545 170 590C185 615 210 632 240 636"/>
<path class="k" d="M0 502C30 484 65 476 100 482C140 495 160 535 180 578C195 605 215 622 245 625"/>
<path class="t" d="M0 540C30 520 60 512 90 515C120 525 140 560 158 600C172 628 200 645 235 648"/>
<path class="k" d="M240 636L365 540M228 622L350 530"/>
<path class="t" d="M250 648L372 552M200 625L240 650L260 640"/>
<!-- dashed box upper -->
<path class="d" d="M410 298L705 325M432 325L700 350M705 325L760 340L760 470M415 300L418 430M330 360L345 545M432 325L436 500"/>
<path class="k" d="M360 360L370 525M385 330L392 500M420 300L428 480"/>
<path class="d" d="M700 330L640 650M742 340L682 668M722 335L660 660M700 478L900 540M690 500L880 560L820 650M760 470L910 490L975 420M810 400L760 500M905 490L930 650M850 385L990 400M1000 420L905 490"/>
<!-- bracket -->
<path class="bb" d="M440 482C458 455 490 440 520 440C550 442 575 462 586 492"/>
<path class="k" d="M586 492L602 522L602 577"/>
<path class="d" d="M445 478L372 590M602 577L531 693M428 706L531 693"/>
<path class="bb" d="M372 598C362 640 380 682 428 706"/>
<path class="d" d="M460 498C480 478 520 470 548 482C570 495 580 515 580 540L578 570L515 682L440 690C410 678 392 650 392 615L460 498"/>
<path class="d2" d="M520 470L600 560M470 480L560 520"/>
<circle class="f" cx="504" cy="573" r="8"/>
<circle class="k" cx="441" cy="628" r="27"/><path class="f" d="M440 615C455 612 465 625 462 640C455 652 440 652 436 645C448 640 452 628 440 615Z"/><path class="t" d="M420 615L462 640M430 645L455 605"/>
<path class="t" d="M585 500L610 510L605 580M370 570L385 560M375 590L390 580"/>
<!-- lines lower right of bracket -->
<path class="k" d="M600 582L690 700M585 600L665 712M520 722L690 745"/>
<path class="t" d="M540 690L600 600M560 700L615 620"/>
<path class="b" d="M670 680L740 625L748 635L680 692"/>
<ellipse class="f" cx="728" cy="690" rx="30" ry="17" transform="rotate(-25 728 690)"/>
<ellipse class="k" cx="728" cy="690" rx="40" ry="24" transform="rotate(-25 728 690)"/>
<path class="b" d="M740 725L800 800"/>
<path class="k" d="M755 715L815 790"/>
<path class="b" d="M822 650L880 660L935 680M830 670L1000 770L1050 800"/>
<path class="k" d="M800 640L830 690L900 740"/>
<path class="d" d="M760 700L900 720M700 740L830 740"/>
<!-- right edge -->
<path class="bb" d="M985 300C1010 320 1012 360 1000 400L960 560L925 680"/>
<path class="b" d="M1000 290C1025 320 1028 360 1015 410L975 580L950 690"/>
<path class="k" d="M960 470L985 350M930 655L960 640L970 600"/>
<path class="k" d="M924 214C985 222 1030 255 1048 309C1060 350 1058 395 1046 437L954 738"/>
<!-- bottom mesh top -->
<path class="k" d="M140 682L270 672L285 690M150 690L265 682"/>
<path class="t" d="M135 700L135 800M160 700L160 800"/>
<path class="d" d="M180 700L182 800M215 700L215 800"/>
<path class="b" d="M280 692L682 742"/>
<path class="k" d="M300 735L660 782M280 692L300 735L300 800M682 742L660 782L665 800"/>
<path class="b" d="M0 632C10 680 25 730 50 765C65 785 80 795 100 800"/>
<path class="k" d="M0 680C10 720 25 760 45 790"/>
</g>

<g transform="translate(400,700) scale(0.2)">
<!-- left border -->
<path style="stroke-dasharray:9 2;stroke-linecap:butt" class="b" d="M47 0L30 620C30 700 55 760 110 800"/>
<path class="k" d="M62 0L46 600C46 690 75 745 130 790"/>
<path class="t" d="M72 0L58 420"/>
<path class="bb" d="M62 330L58 430M80 330L76 420"/>
<path class="k" d="M62 320L130 255L150 268L82 335L80 420"/>
<path class="t" d="M70 330L140 262"/>
<!-- left teeth strip -->
<path class="k" d="M125 0L82 150M150 0L100 160"/>
<path style="stroke-width:2" class="t" d="M118 20L140 28M112 40L134 48M106 60L128 68M100 80L122 88M95 100L116 108M90 120L110 128"/>
<path class="d2" d="M85 150L205 130M100 190L215 168M170 282L245 262M82 150L130 255"/>
<!-- opening edge -->
<path class="b" d="M235 0L200 130C215 205 270 290 340 340C370 360 400 372 432 378"/>
<path class="k" d="M262 0L232 112C250 185 300 262 368 318C395 338 425 348 455 352"/>
<path class="k" d="M205 130L235 118L260 125L250 160L215 165ZM235 118L240 160"/>
<path class="b" d="M680 0L618 165"/>
<path class="t" d="M660 0L602 160"/>
<!-- shelf -->
<path class="k" d="M592 185L762 262L742 358L530 288L562 215Z"/>
<path class="b" d="M575 205L755 275M530 290L740 358"/>
<path style="stroke-width:2" class="t" d="M590 205L586 222M605 210L601 228M620 216L616 234M635 222L631 240M650 228L646 246M665 234L661 252M680 240L676 258M695 246L691 264M710 252L706 270M725 258L721 276M740 264L736 282"/>
<path class="d2" d="M600 178L800 268M620 168L930 290M640 190L900 300"/>
<path class="k" d="M592 185L470 350L432 380L420 422L385 446"/>
<path class="t" d="M562 215L480 335M455 352L520 310"/>
<path class="bb" d="M507 316L735 390L700 520L668 684"/>
<path style="stroke-width:2" class="t" d="M525 325L521 342M545 332L541 349M565 339L561 356M585 346L581 363M605 353L601 370M625 360L621 377M645 367L641 384M665 374L661 391M685 381L681 398M705 388L701 405"/>
<path class="d2" d="M432 380L520 420C545 440 560 470 568 510M300 410L440 365M430 430L530 450"/>
<!-- toothed arc -->
<path class="k" d="M180 365C220 418 300 446 385 446M190 340C200 350 180 360 165 380L150 330"/>
<path style="stroke-width:3.5" class="k" d="M195 385L200 400M215 398L218 414M235 410L237 426M255 418L256 436M275 425L276 444M295 430L296 450M318 433L318 454M340 436L340 456M362 438L362 456"/>
<path class="d2" d="M165 380C200 450 215 520 210 600M150 335C120 345 150 400 175 440C200 490 200 560 190 610"/>
<!-- gear -->
<ellipse class="b" cx="322" cy="622" rx="80" ry="118" transform="rotate(-12 322 622)"/>
<ellipse class="k" cx="312" cy="622" rx="62" ry="100" transform="rotate(-12 312 622)"/>
<path style="stroke-width:3" class="k" d="M375 520L392 528M385 545L402 552M392 572L410 578M396 600L414 604M396 628L414 630M392 655L410 658M385 680L402 686M374 705L390 712M360 725L374 735"/>
<circle class="k" cx="308" cy="605" r="30"/><circle class="k" cx="315" cy="600" r="15"/><path class="t" d="M290 595L330 620M292 612L325 585"/>
<circle class="f" cx="295" cy="680" r="8"/>
<path class="d2" d="M250 560C235 620 245 690 285 740"/>
<!-- arm -->
<path class="k" d="M385 515L520 455C550 462 566 500 576 560L405 648"/>
<path class="t" d="M392 530L525 470M400 620L570 535M410 600L565 520"/>
<path class="d2" d="M395 545L530 488M576 560C590 600 610 630 660 660"/>
<path class="k" d="M576 575C595 620 625 650 668 672"/>
<!-- lower-left bolt -->
<circle class="k" cx="97" cy="543" r="30"/><circle class="k" cx="95" cy="545" r="12"/><circle class="f" cx="99" cy="547" r="7"/>
<path class="b" d="M78 430C110 430 150 460 170 500C185 540 175 575 145 595C115 612 85 625 70 660C62 690 75 730 110 760"/>
<path class="k" d="M95 440C125 445 150 470 160 505C168 540 160 565 135 580C105 598 78 612 62 640"/>
<path class="d2" d="M110 450C150 470 190 520 190 560C188 600 150 615 110 635C85 650 80 690 100 725"/>
<path class="t" d="M100 650L100 680M85 655L88 690M125 455L150 440M140 470L165 455"/>
<!-- bottom contour -->
<path class="b" d="M140 770L300 790M420 742C460 720 490 690 520 672C550 655 600 655 640 680C680 705 710 750 750 800"/>
<path class="k" d="M400 730C440 712 480 680 510 660C545 642 600 642 648 665C690 690 720 740 770 790"/>
<path class="t" d="M440 750C480 730 500 700 530 686"/>
<path class="k" d="M545 800C560 760 590 735 625 735C655 738 680 765 690 800"/>
<path class="t" d="M595 690L598 725M630 695L632 730"/>
<circle class="k" cx="612" cy="790" r="26"/>
<path class="k" d="M230 700L330 740L420 742M150 700L250 745"/>
<path style="stroke-width:3;stroke-dasharray:6 5;stroke-linecap:butt" class="k" d="M120 740L400 800"/>
<!-- right portion -->
<path class="k" d="M765 415L712 680M745 410L692 676"/>
<path style="stroke-width:2" class="t" d="M748 440L766 444M744 465L762 469M740 490L758 494M735 515L753 519M730 540L748 544M725 565L743 569M720 590L738 594M715 615L733 619M710 640L728 644M705 662L723 666"/>
<path class="b" d="M790 280L770 400L790 420L765 415"/>
<path class="k" d="M775 290L800 285L820 400L800 420M780 300L770 350"/>
<path style="stroke-width:2.5" class="k" d="M785 300L800 310M783 320L798 330M780 340L795 350M778 360L793 370"/>
<path style="stroke-width:4;stroke-dasharray:14 8;stroke-linecap:butt" class="k" d="M850 300L850 450"/>
<path style="stroke-width:2;stroke-dasharray:10 6;stroke-linecap:butt" class="k" d="M870 295L868 440"/>
<path class="d2" d="M820 280L860 290L930 295M800 275L850 290L850 470L800 640"/>
<path class="k" d="M830 470L790 640L780 700L900 755"/>
<path style="stroke-width:2" class="t" d="M822 500L808 495M816 525L802 520M810 550L796 545M804 575L790 570M798 600L784 595M792 625L778 620M788 650L774 645M785 675L770 670"/>
<path class="k" d="M845 480L860 600L860 720M830 470L880 440L930 400L960 370"/>
<path style="stroke-width:3" class="k" d="M850 520L835 560L855 600"/>
<circle class="t" cx="955" cy="540" r="46"/>
<circle class="t" cx="905" cy="362" r="14"/><circle class="t" cx="830" cy="680" r="14"/>
<path class="k" d="M875 625L902 618L905 695L878 702Z"/><path class="bb" d="M880 640L882 690"/>
<path class="k" d="M892 738L1050 690M870 720L900 752"/>
<path class="b" d="M930 292L1050 120"/>
<path class="k" d="M945 300L1050 150M930 292C960 300 985 320 990 345L965 385"/>
<circle class="k" cx="950" cy="335" r="18"/>
<path class="t" d="M990 345L1050 360M1010 320L1050 300"/>
<path class="d2" d="M668 684L780 700M700 520L790 640"/>
</g>

<g transform="translate(610,700) scale(0.2)">
<!-- mesh (moved) -->
<path class="k" d="M320 0L328 100L400 172M700 0L690 250"/>
<path class="k" d="M350 172C400 140 480 135 560 158C590 168 610 180 625 195"/>
<path class="t" d="M340 185C400 150 480 148 560 170"/>
<path style="stroke-width:2.5;stroke-dasharray:9 5;stroke-linecap:butt" class="k" d="M640 60L660 250M665 50L682 250M620 120L640 260"/>
<!-- big opening -->
<path class="b" d="M378 240C420 195 490 180 560 195C640 215 700 290 705 385C708 450 680 510 620 545C570 575 540 600 490 590C420 575 370 510 355 430C345 360 350 285 378 240Z"/>
<path class="k" d="M355 225C330 280 320 360 330 430C345 520 400 590 470 605M345 440C360 520 410 580 475 592"/>
<path class="k" d="M735 330C740 400 720 480 670 530C640 555 600 575 570 595M720 300C735 400 705 490 640 535"/>
<path class="t" d="M480 200L620 240M490 215L600 248M700 290L735 330"/>
<path class="k" d="M355 300L380 312M352 320L385 315M352 385L378 395M350 400L380 397M360 270L378 285"/>
<path class="k" d="M340 410L355 410L358 470M330 400L332 480"/>
<!-- left hex opening -->
<path class="b" d="M150 0L158 102L0 340"/>
<path class="k" d="M135 0L140 95L0 310M60 0L150 12M0 95L70 0"/>
<path class="t" d="M180 110L15 355M125 20L0 190"/>
<path class="d" d="M185 0L182 100M200 0L198 105"/>
<path class="b" d="M0 365L85 480"/>
<path class="k" d="M0 340L95 465"/>
<path class="k" d="M200 110L275 190L332 200"/>
<path class="f" d="M200 110L240 175L225 140Z"/>
<path class="k" d="M270 0L275 185M290 0L294 190M300 0L305 180"/>
<!-- tab -->
<path class="k" d="M285 250L345 250L350 280L290 282ZM280 260L300 275"/>
<path style="stroke-width:2.8;stroke-dasharray:10 6;stroke-linecap:butt" class="k" d="M300 290L290 410M318 290L310 400"/>
<path style="stroke-width:2.5;stroke-dasharray:6 4;stroke-linecap:butt" class="k" d="M290 420L300 520L330 545"/>
<!-- toothed channel -->
<path class="k" d="M85 480L290 415M95 498L285 436"/>
<path style="stroke-width:3" class="k" d="M95 470L98 490M112 465L115 485M129 459L132 479M146 454L149 474M163 448L166 468M180 443L183 463M197 437L200 457M214 432L217 452M231 426L234 446M248 421L251 441M265 416L268 436"/>
<path class="b" d="M150 470L185 580M195 458L232 565"/>
<path style="stroke-width:2.5" class="k" d="M160 490L180 484M165 510L185 504M170 530L190 524M176 550L196 544"/>
<path class="k" d="M85 480L100 622L330 540M75 500L90 635L0 665"/>
<path class="t" d="M105 605L325 528"/>
<path class="d2" d="M60 480L75 640M20 530L60 520L65 600"/>
<!-- bottom-left cup -->
<path class="b" d="M195 800C180 740 195 680 240 650C290 630 345 650 375 700C385 720 395 745 395 770"/>
<path class="d2" d="M185 700C215 660 290 650 340 690C380 725 385 770 370 800"/>
<circle class="k" cx="262" cy="752" r="29"/><circle class="k" cx="268" cy="748" r="14"/><path class="t" d="M245 745L282 765M250 735L285 752"/>
<path class="d2" d="M330 545C370 600 395 660 400 730L398 800M345 540C385 600 410 660 412 740"/>
<path class="b" d="M0 800C30 760 80 745 130 760"/>
<path class="k" d="M0 775C30 740 85 728 140 745"/>
<path class="t" d="M330 770L360 772M335 785L350 800"/>
<!-- swoosh -->
<path class="b" d="M600 620C545 660 505 720 492 800"/>
<path class="k" d="M690 580C620 620 560 680 525 740C515 765 510 780 510 800"/>
<path class="k" d="M575 600C520 640 485 700 478 760"/>
<path class="b" d="M740 640C700 640 660 660 630 690C600 715 585 735 560 745"/>
<path class="k" d="M600 650L632 700L650 690L618 640ZM700 582L728 640L745 632L715 575Z"/>
<path class="t" d="M560 745L545 800M580 750C600 740 620 720 640 700"/>
<!-- right teeth edge -->
<path class="b" d="M835 400L800 560C780 650 750 740 700 800"/>
<path class="k" d="M850 405L815 565C795 655 765 745 720 800"/>
<path class="b" d="M820 395L785 550C765 640 735 720 690 780"/>
<path style="stroke-width:1.9;stroke-linecap:butt" class="k" d="M852 420L872 424M848 440L868 444M844 460L864 464M840 480L860 484M836 500L856 504M832 520L852 524M828 540L848 544M824 560L844 564M819 580L839 585M814 600L834 606M808 620L828 627M802 640L822 648M795 660L815 669M788 680L807 690M780 700L798 711M771 720L788 732M761 740L777 753M750 760L765 774M738 780L752 794"/>
<!-- top-right bolt & connector -->
<circle class="b" cx="780" cy="110" r="36"/><circle class="k" cx="780" cy="110" r="16"/><circle class="f" cx="776" cy="114" r="9"/>
<path class="b" d="M735 60C750 45 790 40 830 55M760 30L830 50L870 120"/>
<path class="bb" d="M790 0L870 70M850 80L835 190"/>
<path class="k" d="M742 160L838 205L838 400L742 340Z"/>
<g stroke="#000" stroke-width="2.5" fill="none" stroke-dasharray="5 4">
<path d="M752 170L752 340M766 178L766 350M780 184L780 358M794 190L794 366M808 196L808 376M822 202L822 386"/>
</g>
<path class="k" d="M760 130L790 150L800 165L920 242L1050 232M840 400L1050 425M838 205L920 242"/>
<path style="stroke-width:4;stroke-dasharray:9 5;stroke-linecap:butt" class="k" d="M890 250L870 392"/>
<path style="stroke-width:2;stroke-dasharray:9 5;stroke-linecap:butt" class="k" d="M860 240L845 380"/>
<path class="d2" d="M985 240L930 395"/>
<path class="b" d="M870 60C900 110 960 150 1030 165"/>
<path class="k" d="M880 40C910 90 970 130 1050 150"/>
<path class="k" d="M1020 290L1050 285M1020 290L1022 400L1050 405"/>
<path class="b" d="M1010 160C1020 200 1030 220 1050 240"/>
<!-- bottom-right grommet etc -->
<circle class="b" cx="622" cy="792" r="45"/><circle style="stroke-dasharray:3 1;stroke-linecap:butt" class="k" cx="622" cy="792" r="33"/><circle class="b" cx="624" cy="794" r="22"/><circle class="k" cx="625" cy="795" r="12"/><circle class="f" cx="626" cy="796" r="5"/>
<circle class="k" cx="695" cy="722" r="28"/><path class="t" d="M675 710L715 735M680 700L718 722M672 725L705 745M685 745L708 700"/>
</g>

<g transform="translate(400,840) scale(0.2)">
<path style="stroke-width:2.6;stroke-dasharray:2.6 2.2;stroke-linecap:butt" class="k" d="M110 92C150 105 180 110 210 114L1050 262"/>
<path class="bb" d="M128 80C160 92 190 98 220 102L1050 246"/>
<path class="k" d="M140 66L1050 230"/>
<path class="bb" d="M150 52L330 84"/>
<path style="stroke-width:4;stroke-dasharray:10 6;stroke-linecap:butt" class="k" d="M360 98L500 124"/>
<path class="b" d="M520 128C545 110 550 72 565 50C585 25 640 20 665 50C685 80 690 122 720 150L1050 212"/>
<path class="k" d="M500 118C530 100 535 65 552 42C578 10 645 5 678 42C698 72 704 112 732 138L1050 196"/>
<circle class="k" cx="612" cy="103" r="33"/><circle class="k" cx="610" cy="104" r="14"/><circle class="f" cx="614" cy="106" r="7"/>
<path class="bb" d="M780 96L1000 150L1050 150"/>
<path class="k" d="M700 50C720 80 755 92 790 100M790 80L1040 130"/>
<path class="t" d="M1000 150L1002 195M1010 160L1040 195"/>
<path class="t" d="M295 60L297 85M600 0L602 25M630 0L632 22"/>
</g>

<g transform="translate(610,840) scale(0.2)">
<path style="stroke-width:2.6;stroke-dasharray:2.6 2.2;stroke-linecap:butt" class="k" d="M0 262L250 302C350 315 450 298 545 255C640 205 715 115 775 0"/>
<path class="bb" d="M0 246L250 285C350 298 450 280 540 240C630 195 700 110 758 0"/>
<path class="k" d="M0 230L250 268C350 280 440 265 530 225C615 180 685 100 740 0"/>
<path class="b" d="M0 212L40 222C60 210 65 180 85 160C110 138 150 140 175 165C195 185 200 230 232 255C262 275 320 282 365 275"/>
<path class="k" d="M0 196L30 205C48 195 52 168 72 148C100 122 158 125 188 155C208 178 212 222 240 243C270 260 320 266 360 260"/>
<circle class="k" cx="125" cy="200" r="33"/><circle class="k" cx="123" cy="202" r="14"/><circle class="f" cx="127" cy="204" r="7"/>
<path style="stroke-width:3;stroke-dasharray:5 4;stroke-linecap:butt" class="k" d="M180 170L200 240M195 165L218 235"/>
<path class="bb" d="M0 20C20 5 40 0 60 5M0 150C20 120 40 100 70 95"/>
<path class="b" d="M0 85C30 60 70 50 110 55C140 60 160 70 175 90M0 110C30 85 70 75 110 82"/>
<path class="t" d="M15 140L18 185M0 170L40 160"/>
<path class="d2" d="M195 0C185 60 200 130 250 170C300 185 340 160 355 110C365 70 360 30 350 0M210 0L205 60M300 0L320 60L350 75"/>
<circle class="k" cx="262" cy="52" r="29"/><circle class="k" cx="268" cy="48" r="14"/>
<circle class="f" cx="248" cy="130" r="8"/>
<path class="bb" d="M395 20C392 80 380 145 340 200C380 222 440 216 482 182C522 145 540 85 522 30"/>
<path class="k" d="M380 0C378 70 365 130 325 185M300 200C350 240 440 238 495 195C540 155 555 95 540 40M500 20C515 70 500 130 465 165C430 195 385 200 355 190"/>
<path class="k" d="M490 50L520 80L560 180M505 40L540 90L580 160"/>
<path class="d2" d="M420 230C480 235 540 200 570 150"/>
<circle class="b" cx="622" cy="92" r="45"/><circle style="stroke-dasharray:3 1;stroke-linecap:butt" class="k" cx="622" cy="92" r="33"/><circle class="b" cx="624" cy="94" r="22"/><circle class="k" cx="625" cy="95" r="12"/><circle class="f" cx="626" cy="96" r="5"/>
<path class="k" d="M665 10C680 -10 710 -5 718 15C715 35 690 45 675 35Z"/>
</g>

<g>
<path d="M826.5 600.0L830.6 599.3M827.0 603.2L831.2 602.5M827.6 606.3L831.7 605.6M828.1 609.5L832.2 608.8M828.4 612.6L832.6 613.1M828.1 615.8L832.3 616.3M827.7 619.0L831.9 619.5M827.4 622.2L831.5 622.6M827.0 625.4L831.2 625.8M826.0 628.4L830.0 629.7M825.0 631.4L829.0 632.8M824.0 634.5L827.9 635.8M822.9 637.5L826.9 638.8M821.9 640.5L825.9 641.9M820.9 643.5L824.9 644.9M819.9 646.6L823.8 647.9M818.8 649.6L822.8 651.0M817.8 652.6L821.8 654.0M816.8 655.7L820.8 657.0M815.8 658.7L819.7 660.0M814.7 661.7L818.7 663.1M813.7 664.8L817.7 666.1M812.7 667.8L816.7 669.1M811.7 670.8L815.6 672.2M810.6 673.9L814.6 675.2M809.6 676.9L813.6 678.2M808.6 679.9L812.6 681.3M807.6 682.9L811.5 684.3M806.5 686.0L810.5 687.3M805.5 689.0L809.5 690.4" stroke="#000" stroke-width="1.7" fill="none"/>
</g>

<g transform="translate(760,560) scale(0.20408)">
<!-- thick line continuing to bracket -->
<path class="b" d="M290 684L345 720L352 800"/>
<path class="k" d="M352 800L330 950L318 1082"/>
<!-- edge continuing behind -->
<path class="k" d="M230 640L105 752M215 640L92 746M200 628L150 655L78 740"/>
<path class="t" d="M222 660L120 755"/>
<!-- bracket right -->
<path class="k" d="M265 850L300 792L340 797L345 790L455 800L470 860L458 900L462 1040L440 1140L405 1150L330 1102L300 1096"/>
<path class="b" d="M390 812L432 812L436 868L392 866Z"/>
<path class="k" d="M462 990L425 995C414 1005 418 1025 435 1028L462 1036"/>
<path class="k" d="M340 797L352 800L400 800M350 790L360 775L400 780L415 800"/>
<path class="k" d="M265 962L298 965L300 1092M265 962L268 1088"/>
<path class="k" d="M300 800L290 830L320 825M305 820L325 835M295 850L280 900L300 960M310 1000L322 1060L345 1100L400 1130M420 1120L445 1135"/>
<path style="stroke-width:3" class="k" d="M300 990L318 1040"/>
<path class="t" d="M270 860L290 920M275 880L265 915M330 1080L350 1115M360 1100L380 1130M395 1110L410 1140"/>
<path class="k" d="M294 913L262 915M294 1095L300 1096"/>
</g>
<!-- rod 11 -->
<g>
<path style="stroke-width:1.8" class="k" d="M854.3 511C854.3 509.3 859.4 509.3 859.6 511L858.6 547L851.6 547Z"/>
<path class="t" d="M856.6 512L855 546"/>
<path style="stroke-width:1.2" class="k" d="M853.5 547L852.6 566L826.5 592.5M856 547L855.6 566.8L828.5 594.5"/>
</g>

<g>
<defs><clipPath id="meshclip"><path d="M672.0 690.5L744.0 700.0L748.0 727.0L745.0 752.0L736.0 741.0L721.5 732.0L700.0 727.5L676.0 723.5L670.0 728.0Z"/></clipPath></defs>
<g clip-path="url(#meshclip)"><path d="M649.6 685.8L654.1 688.8L652.1 691.8L656.6 694.8L654.6 697.8L659.1 700.8L657.2 703.8L661.6 706.8L659.7 709.8L664.1 712.8L662.2 715.8L666.7 718.8L664.7 721.8L669.2 724.8L667.2 727.8L671.7 730.8M655.2 686.5L659.7 689.5L657.7 692.5L662.2 695.5L660.2 698.5L664.7 701.5L662.8 704.5L667.2 707.5L665.3 710.5L669.7 713.5L667.8 716.5L672.3 719.5L670.3 722.5L674.8 725.5L672.8 728.5L677.3 731.5M660.8 687.2L665.3 690.2L663.3 693.2L667.8 696.2L665.8 699.2L670.3 702.2L668.4 705.2L672.8 708.2L670.9 711.2L675.3 714.2L673.4 717.2L677.9 720.2L675.9 723.2L680.4 726.2L678.4 729.2L682.9 732.2M666.4 688.0L670.9 691.0L668.9 694.0L673.4 697.0L671.4 700.0L675.9 703.0L674.0 706.0L678.4 709.0L676.5 712.0L680.9 715.0L679.0 718.0L683.5 721.0L681.5 724.0L686.0 727.0L684.0 730.0L688.5 733.0M672.0 688.8L676.5 691.8L674.5 694.8L679.0 697.8L677.0 700.8L681.5 703.8L679.6 706.8L684.0 709.8L682.1 712.8L686.5 715.8L684.6 718.8L689.1 721.8L687.1 724.8L691.6 727.8L689.6 730.8L694.1 733.8M677.6 689.5L682.1 692.5L680.1 695.5L684.6 698.5L682.6 701.5L687.1 704.5L685.2 707.5L689.6 710.5L687.7 713.5L692.1 716.5L690.2 719.5L694.7 722.5L692.7 725.5L697.2 728.5L695.2 731.5L699.7 734.5M683.2 690.2L687.7 693.2L685.7 696.2L690.2 699.2L688.2 702.2L692.7 705.2L690.8 708.2L695.2 711.2L693.3 714.2L697.7 717.2L695.8 720.2L700.3 723.2L698.3 726.2L702.8 729.2L700.8 732.2L705.3 735.2M688.8 691.0L693.3 694.0L691.3 697.0L695.8 700.0L693.8 703.0L698.3 706.0L696.4 709.0L700.8 712.0L698.9 715.0L703.3 718.0L701.4 721.0L705.9 724.0L703.9 727.0L708.4 730.0L706.4 733.0L710.9 736.0M694.4 691.8L698.9 694.8L696.9 697.8L701.4 700.8L699.4 703.8L703.9 706.8L702.0 709.8L706.4 712.8L704.5 715.8L708.9 718.8L707.0 721.8L711.5 724.8L709.5 727.8L714.0 730.8L712.0 733.8L716.5 736.8M700.0 692.5L704.5 695.5L702.5 698.5L707.0 701.5L705.0 704.5L709.5 707.5L707.6 710.5L712.0 713.5L710.1 716.5L714.5 719.5L712.6 722.5L717.1 725.5L715.1 728.5L719.6 731.5L717.6 734.5L722.1 737.5M705.6 693.2L710.1 696.2L708.1 699.2L712.6 702.2L710.6 705.2L715.1 708.2L713.2 711.2L717.6 714.2L715.7 717.2L720.1 720.2L718.2 723.2L722.7 726.2L720.7 729.2L725.2 732.2L723.2 735.2L727.7 738.2M711.2 694.0L715.7 697.0L713.7 700.0L718.2 703.0L716.2 706.0L720.7 709.0L718.8 712.0L723.2 715.0L721.3 718.0L725.7 721.0L723.8 724.0L728.3 727.0L726.3 730.0L730.8 733.0L728.8 736.0L733.3 739.0M716.8 694.8L721.3 697.8L719.3 700.8L723.8 703.8L721.8 706.8L726.3 709.8L724.4 712.8L728.8 715.8L726.9 718.8L731.3 721.8L729.4 724.8L733.9 727.8L731.9 730.8L736.4 733.8L734.4 736.8L738.9 739.8M722.4 695.5L726.9 698.5L724.9 701.5L729.4 704.5L727.4 707.5L731.9 710.5L730.0 713.5L734.4 716.5L732.5 719.5L736.9 722.5L735.0 725.5L739.5 728.5L737.5 731.5L742.0 734.5L740.0 737.5L744.5 740.5M728.0 696.2L732.5 699.2L730.5 702.2L735.0 705.2L733.0 708.2L737.5 711.2L735.6 714.2L740.0 717.2L738.1 720.2L742.5 723.2L740.6 726.2L745.1 729.2L743.1 732.2L747.6 735.2L745.6 738.2L750.1 741.2M733.6 697.0L738.1 700.0L736.1 703.0L740.6 706.0L738.6 709.0L743.1 712.0L741.2 715.0L745.6 718.0L743.7 721.0L748.1 724.0L746.2 727.0L750.7 730.0L748.7 733.0L753.2 736.0L751.2 739.0L755.7 742.0M739.2 697.8L743.7 700.8L741.7 703.8L746.2 706.8L744.2 709.8L748.7 712.8L746.8 715.8L751.2 718.8L749.3 721.8L753.7 724.8L751.8 727.8L756.3 730.8L754.3 733.8L758.8 736.8L756.8 739.8L761.3 742.8M744.8 698.5L749.3 701.5L747.3 704.5L751.8 707.5L749.8 710.5L754.3 713.5L752.4 716.5L756.8 719.5L754.9 722.5L759.3 725.5L757.4 728.5L761.9 731.5L759.9 734.5L764.4 737.5L762.4 740.5L766.9 743.5M750.4 699.2L754.9 702.2L752.9 705.2L757.4 708.2L755.4 711.2L759.9 714.2L758.0 717.2L762.4 720.2L760.5 723.2L764.9 726.2L763.0 729.2L767.5 732.2L765.5 735.2L770.0 738.2L768.0 741.2L772.5 744.2" stroke="#000" stroke-width="1.25" fill="none" stroke-linejoin="round"/></g>
<path d="M674.0 690.8l3.6 0.5l-1.4 3.2zM679.6 691.5l3.6 0.5l-1.4 3.2zM685.2 692.3l3.6 0.5l-1.4 3.2zM690.8 693.0l3.6 0.5l-1.4 3.2zM696.4 693.8l3.6 0.5l-1.4 3.2zM702.0 694.5l3.6 0.5l-1.4 3.2zM707.6 695.2l3.6 0.5l-1.4 3.2zM713.2 696.0l3.6 0.5l-1.4 3.2zM718.8 696.7l3.6 0.5l-1.4 3.2zM724.4 697.5l3.6 0.5l-1.4 3.2zM730.0 698.2l3.6 0.5l-1.4 3.2zM735.6 698.9l3.6 0.5l-1.4 3.2zM741.2 699.7l3.6 0.5l-1.4 3.2z" fill="#000"/>
</g>

<g>
<path d="M580 850.4L619 838" stroke="#000" stroke-width="3.2" fill="none" stroke-linecap="round"/>
<path style="stroke-dasharray:3 1;stroke-linecap:butt" class="b" d="M611 805.5C614 803.5 620 804.5 622 808.5L623 826C622 830.5 616 832 611.5 829.5C607.5 824 607.5 811 611 805.5Z"/>
<path class="k" d="M613 808C616 806.5 619.5 807.5 620.5 810.5L621 825C620 828 616.5 829 613.5 827.5"/>
<circle class="k" cx="615.6" cy="817.8" r="3.3"/>
<path style="stroke-width:2.6;stroke-dasharray:2 1.6;stroke-linecap:butt" class="k" d="M625.5 795L627 831"/>
<path class="k" d="M622 831L627 836L628 845"/>
</g>

<g transform="translate(369,655.2)">
<circle r="8.1" stroke="#000" fill="none" stroke-dasharray="2.4 1.3" stroke-width="1.2"/>
<path style="stroke-width:1.2" class="k" d="M1.5 -6C5 -5.5 6.6 -2 6 1.5C5.5 4.5 3 6.3 -0.5 6.3"/>
<path class="f" d="M-5 -2.2L-2.5 -4.8L0.5 -4.2L1 -1.5L3.8 -1.8L5 0.8L4 2.6L0.5 2.4L-0.3 5.2L-1.8 5.4L-2.2 2.2L-4.8 1.6Z"/>
<path style="stroke-width:1.2" class="k" d="M-1.8 5.2L-1.6 7.6L2.4 7.6"/>
<circle cx="-2.4" cy="0.2" r="0.6" fill="#fff"/><circle cx="3.2" cy="-0.6" r="0.6" fill="#fff"/><circle cx="-0.6" cy="2" r="0.5" fill="#fff"/>
</g>
<g transform="translate(796.2,554.4)">
<circle r="8.1" stroke="#000" fill="none" stroke-dasharray="2.4 1.3" stroke-width="1.2"/>
<path style="stroke-width:1.2" class="k" d="M1.5 -6C5 -5.5 6.6 -2 6 1.5C5.5 4.5 3 6.3 -0.5 6.3"/>
<path class="f" d="M-5 -2.2L-2.5 -4.8L0.5 -4.2L1 -1.5L3.8 -1.8L5 0.8L4 2.6L0.5 2.4L-0.3 5.2L-1.8 5.4L-2.2 2.2L-4.8 1.6Z"/>
<path style="stroke-width:1.2" class="k" d="M-1.8 5.2L-1.6 7.6L2.4 7.6"/>
<circle cx="-2.4" cy="0.2" r="0.6" fill="#fff"/><circle cx="3.2" cy="-0.6" r="0.6" fill="#fff"/><circle cx="-0.6" cy="2" r="0.5" fill="#fff"/>
</g>
<g transform="translate(779.8,894.3)">
<circle r="8.1" stroke="#000" fill="none" stroke-dasharray="2.4 1.3" stroke-width="1.2"/>
<path style="stroke-width:1.2" class="k" d="M1.5 -6C5 -5.5 6.6 -2 6 1.5C5.5 4.5 3 6.3 -0.5 6.3"/>
<path class="f" d="M-5 -2.2L-2.5 -4.8L0.5 -4.2L1 -1.5L3.8 -1.8L5 0.8L4 2.6L0.5 2.4L-0.3 5.2L-1.8 5.4L-2.2 2.2L-4.8 1.6Z"/>
<path style="stroke-width:1.2" class="k" d="M-1.8 5.2L-1.6 7.6L2.4 7.6"/>
<circle cx="-2.4" cy="0.2" r="0.6" fill="#fff"/><circle cx="3.2" cy="-0.6" r="0.6" fill="#fff"/><circle cx="-0.6" cy="2" r="0.5" fill="#fff"/>
</g>

<g transform="translate(610,465) scale(0.2)">
<path class="d" d="M70 95L120 90L380 90L570 52L640 48L770 55L780 110L870 125C895 135 905 150 905 170L905 290L860 345L830 355L600 330L380 282L80 240L45 230L45 180L80 175Z"/>
<path class="d" d="M110 110L130 180L100 200L160 235M130 110L180 100L300 98M380 90L385 280M570 52L575 320M640 48L640 200L780 215M780 110L640 105M640 150L870 160M880 150L870 330M600 300L850 318M890 200L860 210L855 320"/>
<path class="d2" d="M420 118C425 112 485 112 490 118L490 178C485 184 425 184 420 178ZM400 218C405 212 465 212 470 218L470 268C465 274 405 274 400 268ZM330 98L380 98L380 130L330 130ZM520 98L560 98L560 190L520 190ZM500 222L540 222L540 292L500 292ZM590 90L620 90L620 310L590 310Z"/>
<path class="d2" d="M150 200L152 255M180 195L182 258M212 200L214 262M246 190L248 265M300 210L305 270M350 215L352 278"/>
<!-- dark bits -->
<path class="f" d="M572 50L640 50L615 85L600 70Z"/>
<path class="k" d="M600 70L610 110M620 80L600 120"/>
<path class="bb" d="M195 120L250 105M200 140L240 130M230 110L235 180M215 160L250 150M200 190L245 185M210 200L215 258M240 195L245 260"/>
<path class="k" d="M185 110L270 100L260 135M190 200L260 205M225 130L260 140L250 175"/>
<path class="k" d="M308 142L335 142L335 160L308 160ZM298 195L330 195L330 208L298 208Z"/>
<path class="bb" d="M545 210L600 212M575 200L578 230"/>
<path class="k" d="M600 170L600 235L625 235M610 120L612 170"/>
<circle class="f" cx="717" cy="190" r="11"/><circle class="k" cx="717" cy="190" r="17"/>
<circle class="f" cx="712" cy="252" r="12"/><circle class="k" cx="712" cy="252" r="18"/>
<circle class="k" cx="715" cy="222" r="14"/>
<path class="b" d="M745 178C780 195 790 240 750 282"/>
<path class="k" d="M760 175L790 182L830 216L852 200M798 262L830 252L862 278M820 205L850 210M815 265L840 270"/>
<path class="k" d="M585 300L600 318L620 310L605 292Z"/>
<path style="stroke-width:3" class="k" d="M680 340L700 345"/>
<path class="k" d="M770 60L782 75L780 110"/>
</g>

<g>
<path d="M822 960.5C828.5 965 831.6 972 831.4 980C831 988 827.5 995 821 998.5" stroke="#000" stroke-width="1.8" fill="none" stroke-dasharray="4 1"/>
<ellipse cx="815.3" cy="978.4" rx="13.2" ry="19.7" fill="#fff" stroke="#000" stroke-width="1.8"/>
<path style="stroke-width:1.6" class="k" d="M828 968L829.5 969M830.2 975L831.4 975.5M830.6 982L831.6 982M829 990L830.3 990.5M826 996L827 996.8"/>
<path style="stroke-width:1.3" class="k" d="M811 965.5L813.5 964.5L814 970L812.2 971.5L810.6 968ZM815.2 983.5L817.2 983.3L818 988L819.3 989.2L816.5 990.5L815 989Z"/>
<ellipse style="stroke-width:1.3" class="k" cx="815" cy="977.3" rx="1.6" ry="2.3"/>
</g>

<g transform="translate(455,222) scale(0.142857)">
<path class="k" d="M95 88L905 102L935 120L935 330L910 485L860 498L150 460L130 440L130 225L95 160Z"/>
<path class="k" d="M905 102L905 490M860 498L862 380M95 88L110 100L110 165"/>
<path class="b" d="M175 215L700 225M130 225L175 215M170 215L215 130L300 85"/>
<circle class="k" cx="130" cy="158" r="22"/><path class="t" d="M130 136L130 180M112 160L150 156"/>
<circle class="k" cx="853" cy="180" r="33"/>
<path class="k" d="M530 128L602 130L600 200L528 198Z"/><circle class="f" cx="563" cy="162" r="8"/>
<path class="k" d="M500 105L505 200M620 108L618 210"/>
<!-- spring -->
<path class="b" d="M340 98L420 200M374 102L452 200M406 106L478 196M438 110L498 190"/>
<path class="k" d="M325 90L360 98L340 140L370 160L360 190L330 175L320 150"/>
<!-- lever -->
<path class="b" d="M180 178L300 88C315 80 335 88 335 100L215 198C200 205 180 195 180 178Z"/>
<path class="k" d="M200 180L310 100"/>
<!-- handle -->
<path class="b" d="M165 226L700 226C720 228 726 250 716 270C700 300 680 318 650 322L200 316C170 310 155 290 155 262C155 242 160 230 165 226Z"/>
<path class="k" d="M350 226L350 318M170 240C165 260 170 290 195 302L640 308"/>
<!-- pivot -->
<path class="b" d="M650 128C720 108 800 150 800 230C800 290 750 330 690 336"/>
<path class="k" d="M680 170C730 158 770 190 766 240C760 280 730 305 700 312M690 150C750 140 790 180 785 238C780 290 740 320 700 325"/>
<circle class="k" cx="735" cy="226" r="22"/><path class="k" d="M735 205L735 248"/>
<path class="k" d="M660 130L640 160L690 170M690 336L660 320"/>
<!-- lower -->
<path class="b" d="M130 345L905 382"/>
<path class="k" d="M150 360L900 398M195 348L195 445M240 380L240 445M265 382L265 448M670 388L672 482M880 385L882 492"/>
<path class="k" d="M180 385L210 388L210 440L180 438Z"/>
<path class="b" d="M300 360L340 432L346 366M400 366L440 440L446 372"/>
<path class="k" d="M735 400L820 404L820 458L735 454Z"/><path class="k" d="M750 410L752 450"/>
<path class="t" d="M420 370L470 375L480 350M440 380L450 360"/>
<path class="k" d="M200 330L640 345"/>
<!-- cable end -->
<path class="k" d="M0 260C20 258 40 258 58 262M0 336C20 336 40 334 52 332"/>
<path class="k" d="M58 262C75 260 80 280 75 300C72 320 62 332 52 332C44 320 44 280 58 262Z"/>
<path class="b" d="M78 290L130 290"/><path class="k" d="M78 305L130 305"/>
</g>

<g transform="translate(490,500) scale(0.142857)">
<path class="k" d="M72 90L660 100L650 395L82 372Z"/>
<path class="d" d="M660 100L710 105L706 212L655 210M90 100L640 112M95 360L640 384"/>
<path class="k" d="M490 90L510 72L545 70L565 92"/>
<path class="k" d="M92 130C100 120 130 120 140 132L140 200C130 215 100 212 92 200Z"/>
<circle class="k" cx="195" cy="186" r="46"/><circle class="b" cx="195" cy="186" r="31"/><circle class="f" cx="192" cy="186" r="16"/>
<path class="k" d="M245 150L300 185L250 225M260 130L320 130L345 175M270 120L340 200"/>
<path class="b" d="M85 262L340 270M100 290L235 296"/>
<path class="k" d="M240 300L350 305L352 372M240 300L242 368M360 330L392 332L395 382M392 316L520 322L522 384M530 330L600 332L600 390"/>
<path class="bb" d="M400 185L490 188L490 215M420 235L560 240M430 235L430 275M520 190L545 190L545 215"/>
<path class="k" d="M360 130L640 140M380 160L630 168M350 210L400 212M450 262L590 268L590 300L510 298M600 180L645 182M560 200L640 205M350 120L355 290M600 140L598 330"/>
<path class="d2" d="M370 145L620 152M400 120L640 128M360 250L440 255M470 280L580 285M620 220L640 280"/>
<path class="t" d="M90 230L150 215M95 340L230 350M100 315L230 322"/>
<!-- cable -->
<path class="bb" d="M630 280L700 282"/>
<path class="b" d="M700 278C780 278 860 300 920 350C975 400 1005 470 1012 560"/>
<path class="k" d="M700 292C775 292 850 315 905 362C958 410 988 478 996 560"/>
</g>

<g id="labels">
<text x="598.5" y="189">17</text>
<text x="205.5" y="370">10</text>
<text x="729" y="356">1</text>
<text x="888" y="453.5">2</text>
<text x="559" y="436.5">15</text>
<text x="827.5" y="507">14</text>
<text x="945.5" y="535">11</text>
<text x="341.5" y="515">12</text>
<text x="967" y="627">8</text>
<text x="941" y="677">9</text>
<text x="133" y="680">6</text>
<text x="360.5" y="754.5">13</text>
<text x="872" y="861">3</text>
<text x="1004" y="894.5">4</text>
<text x="357" y="898.5">5</text>
<text x="141" y="975.5">7</text>
<text x="760" y="951.5">14</text>
<text x="767.5" y="1039">16</text>
</g>
<g id="leaders" class="l">
<path d="M587.4 194.3L534.5 262.5"/>
<path d="M221 352.6L264 327"/>
<path d="M729.4 365V424"/>
<path d="M872.3 435L821.4 403.7"/>
<path d="M819.4 514.3L800 550"/>
<path d="M927.7 528L858 534.9"/>
<path d="M352.9 517L417 571.4"/>
<path d="M570 442.3L619 502"/>
<path d="M977.6 633.3L1004.3 669.4"/>
<path d="M926.5 656.9L889.2 627"/>
<path d="M889.8 848.2L935.9 837.3"/>
<path d="M1001.2 868.6L995.5 837.2"/>
<path d="M139.2 689.9L149 715.3"/>
<path d="M362.2 726.6L368.5 661.6"/>
<path d="M345.9 874.8L288 797.2"/>
<path d="M152.1 952.4L188.4 901.8"/>
<path d="M768.2 927.1L782.4 899.2"/>
<path d="M781.1 1019.2L816.9 988.6"/>
<path d="M404.2 302L517 509.4" stroke-width="1.6"/>
</g>

</svg>
</body></html>
